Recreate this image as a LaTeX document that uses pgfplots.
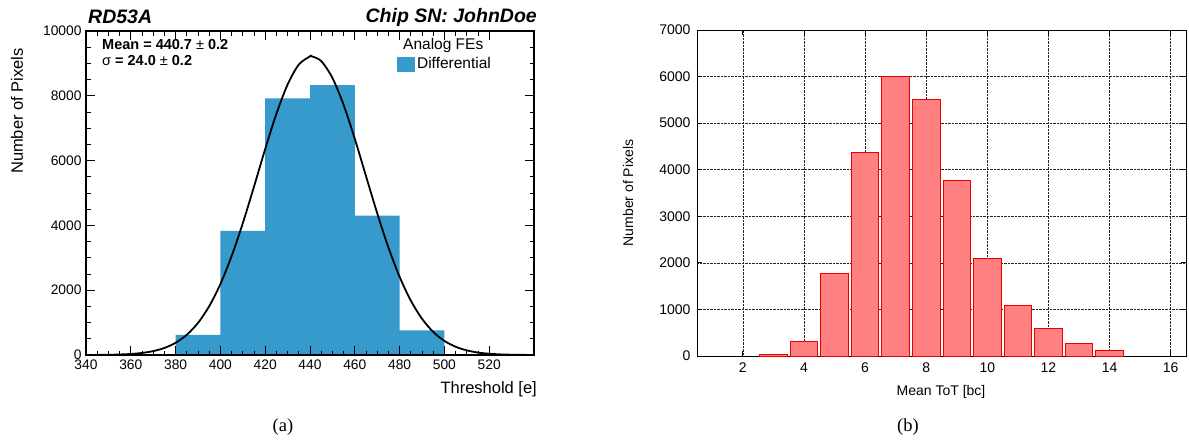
\documentclass[border=0pt]{standalone}
\usepackage{fontspec}
\setmainfont{Liberation Sans}
\newfontfamily\serifcap{Liberation Serif}
\usepackage{pgfplots}
\pgfplotsset{compat=1.18}
\definecolor{rootblue}{RGB}{54,154,204}
\definecolor{barfill}{RGB}{255,128,128}
\definecolor{barline}{RGB}{235,0,0}

\begin{document}
\begin{tikzpicture}[x=1pt,y=1pt]
\useasboundingbox (0,0) rectangle (1189,-440);

% ---------------- (a) ----------------
\begin{axis}[
  at={(86pt,-355pt)}, anchor=south west,
  scale only axis, width=448pt, height=324pt,
  xmin=340, xmax=540, ymin=0, ymax=10000,
  xtick={340,360,...,520}, ytick={0,2000,...,10000},
  minor x tick num=3, minor y tick num=3,
  tick align=inside, tick pos=both,
  major tick length=9pt, minor tick length=4.5pt,
  axis line style={line width=1.4pt},
  tick style={black, line width=0.9pt},
  scaled y ticks=false, scaled x ticks=false,
  /pgf/number format/set thousands separator={},
  /pgf/number format/assume math mode=true,
  ticklabel style={font=\fontsize{13.8}{14}\selectfont},
  xticklabel style={yshift=-1pt},
  yticklabel style={xshift=-1pt},
  axis on top,
  legend style={at={(axis description cs:0.694,0.898)}, anchor=west,
    draw=none, fill=none, inner sep=0pt, font=\fontsize{15.5}{16}\selectfont},
  legend cell align=left,
]
\addplot[fill=rootblue, draw=none, const plot,
  legend image code/.code={\fill[rootblue] (0pt,-7.5pt) rectangle (18pt,7.5pt);}]
  coordinates {(340,0) (360,30) (380,620) (400,3830) (420,7920) (440,8330) (460,4300) (480,760) (500,30) (520,0) (540,0)} \closedcycle;
\addlegendentry{Differential}
\addplot[black, line width=1.8pt, smooth, forget plot] coordinates {
(340,1) (345,3) (350,7) (355,16) (360,32) (365,64) (370,120) (375,217)
(380,377) (385,624) (390,990) (395,1505) (400,2190) (405,3051) (410,4068)
(415,5196) (420,6356) (425,7444) (430,8348) (435,8964) (440,9216) (440.7,9220)
(445,9073) (450,8553) (455,7721) (460,6673) (465,5522) (470,4376) (475,3320)
(480,2413) (485,1679) (490,1119) (495,713) (500,435) (505,255) (510,143)
(515,76) (520,39) (525,19) (530,9) (535,4) (540,2)};
\end{axis}

\node[anchor=west, inner sep=0pt, font=\bfseries\itshape\fontsize{19.5}{20}\selectfont] at (88,-17) {RD53A};
\node[anchor=east, inner sep=0pt, font=\bfseries\itshape\fontsize{19.5}{20}\selectfont] at (537,-17) {Chip SN: JohnDoe};
\node[anchor=west, inner sep=0pt, font=\bfseries\fontsize{14.5}{15}\selectfont] at (102,-45) {Mean = 440.7 {\mdseries ±} 0.2};
\node[anchor=west, inner sep=0pt, font=\bfseries\fontsize{14.5}{15}\selectfont] at (102,-61) {{\mdseries σ} = 24.0 {\mdseries ±} 0.2};
\node[anchor=west, inner sep=0pt, font=\fontsize{15.5}{16}\selectfont] at (403,-45) {Analog FEs};
\node[rotate=90, anchor=east, inner sep=0pt, font=\fontsize{16.5}{16.5}\selectfont] at (17,-48) {Number of Pixels};
\node[anchor=east, inner sep=0pt, font=\fontsize{16.5}{16.5}\selectfont] at (537,-389) {Threshold [e]};
\node[inner sep=0pt, font=\serifcap\fontsize{18.5}{18.5}\selectfont] at (283,-427) {(a)};

% ---------------- (b) ----------------
\begin{axis}[
  at={(697pt,-356pt)}, anchor=south west,
  scale only axis, width=489pt, height=326pt,
  xmin=0.5, xmax=16.5, ymin=0, ymax=7000,
  xtick={2,4,...,16}, ytick={0,1000,...,7000},
  grid=major, major grid style={black!85, densely dotted, line width=0.6pt},
  tick align=inside, tick pos=both,
  major tick length=5pt,
  axis line style={line width=1pt},
  tick style={black, line width=0.8pt},
  scaled y ticks=false,
  /pgf/number format/set thousands separator={},
  /pgf/number format/assume math mode=true,
  ticklabel style={font=\fontsize{14}{14}\selectfont},
  xticklabel style={yshift=-3pt},
  yticklabel style={xshift=-3pt},
]
\addplot[ybar, bar width=0.9, fill=barfill, draw=barline, line width=0.9pt] coordinates {
(3,30) (4,320) (5,1775) (6,4365) (7,6005) (8,5505) (9,3770) (10,2085)
(11,1080) (12,585) (13,275) (14,115)};
\end{axis}

\node[rotate=90, inner sep=0pt, font=\fontsize{14}{14}\selectfont] at (628,-193) {Number of Pixels};
\node[inner sep=0pt, font=\fontsize{14}{14}\selectfont] at (941,-392) {Mean ToT [bc]};
\node[inner sep=0pt, font=\serifcap\fontsize{18.5}{18.5}\selectfont] at (908,-427) {(b)};
\end{tikzpicture}
\end{document}
